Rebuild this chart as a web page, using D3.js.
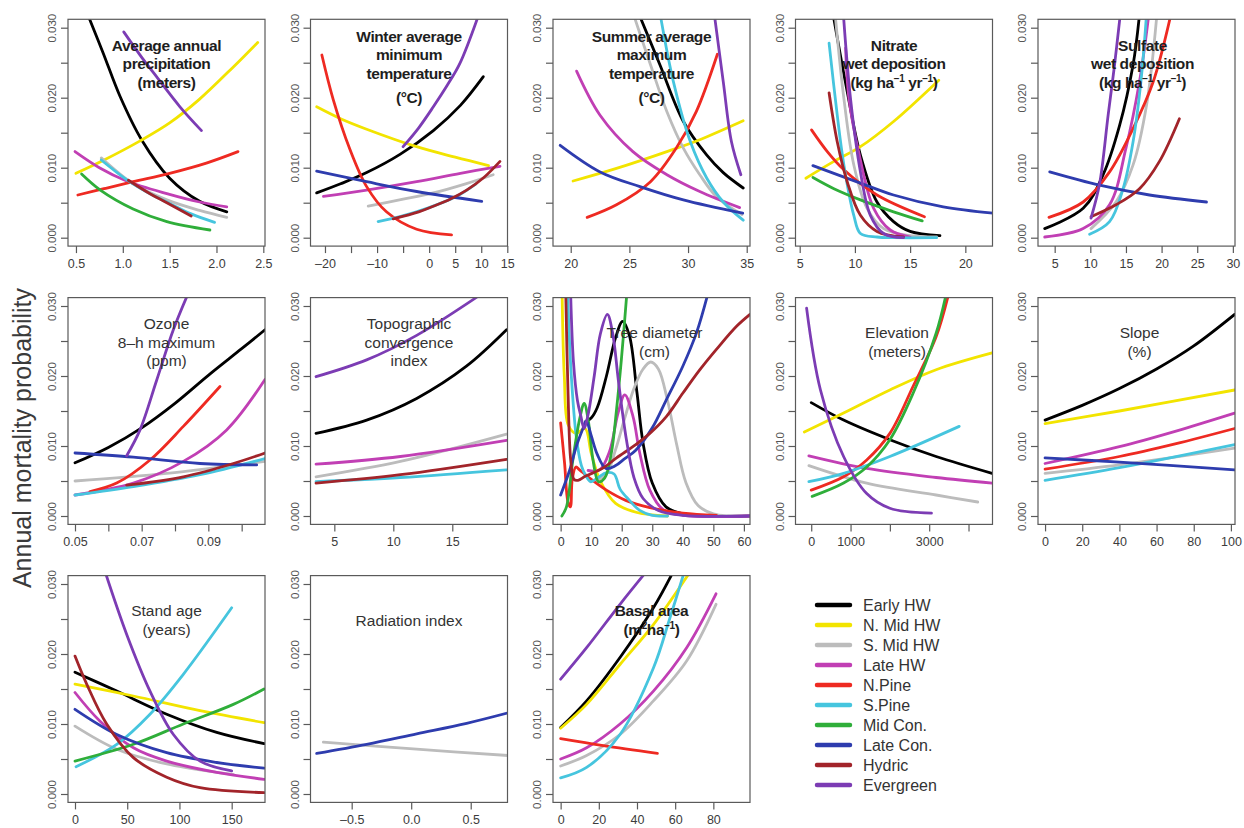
<!DOCTYPE html>
<html>
<head>
<meta charset="utf-8">
<script src="https://cdn.jsdelivr.net/npm/d3@7"></script>
<style>
  body { margin: 0; background: #fff; }
  svg { font-family: "Liberation Sans", Arial, Helvetica, sans-serif; }
</style>
</head>
<body>
<script>
// species groups and their line colours
const species = ["Early HW", "N. Mid HW", "S. Mid HW", "Late HW", "N.Pine", "S.Pine", "Mid Con.", "Late Con.", "Hydric", "Evergreen"];
const speciesColors = ["#000000", "#f2e400", "#bcbcbc", "#c13fb4", "#ee2a22", "#46c5de", "#2fae3a", "#2e3cae", "#a2242a", "#7c3cb4"];

// shared y axis
const yTicks = [0, 0.005, 0.010, 0.015, 0.020, 0.025, 0.030];
const yTickLabels = ["0.000", "", "0.010", "", "0.020", "", "0.030"];

// x ticks per panel
const precipTicks = [0.5, 1, 1.5, 2, 2.5];
const precipLabels = ["0.5", "1.0", "1.5", "2.0", "2.5"];
const winterTicks = [-20, -15, -10, -5, 0, 5, 10, 15];
const winterLabels = ["\u201320", "", "\u201310", "", "0", "5", "10", "15"];
const summerTicks = [20, 25, 30, 35];
const summerLabels = ["20", "25", "30", "35"];
const nitrateTicks = [5, 10, 15, 20];
const nitrateLabels = ["5", "10", "15", "20"];
const sulfateTicks = [5, 10, 15, 20, 25, 30];
const sulfateLabels = ["5", "10", "15", "20", "25", "30"];
const ozoneTicks = [0.05, 0.06, 0.07, 0.08, 0.09, 0.10];
const ozoneLabels = ["0.05", "", "0.07", "", "0.09", ""];
const topoTicks = [5, 10, 15];
const topoLabels = ["5", "10", "15"];
const diameterTicks = [0, 10, 20, 30, 40, 50, 60];
const diameterLabels = ["0", "10", "20", "30", "40", "50", "60"];
const elevationTicks = [0, 1000, 2000, 3000, 4000];
const elevationLabels = ["0", "1000", "", "3000", ""];
const slopeTicks = [0, 20, 40, 60, 80, 100];
const slopeLabels = ["0", "20", "40", "60", "80", "100"];
const standAgeTicks = [0, 50, 100, 150];
const standAgeLabels = ["0", "50", "100", "150"];
const radiationTicks = [-0.5, 0, 0.5];
const radiationLabels = ["\u20130.5", "0.0", "0.5"];
const basalTicks = [0, 20, 40, 60, 80];
const basalLabels = ["0", "20", "40", "60", "80"];

// curves: [species, [[x, mortality], ...]]
const precipCurves = [
  ["Early HW", [[0.64,0.0314],[0.79,0.0264],[0.97,0.0202],[1.2,0.0140],[1.5,0.0085],[1.82,0.0052],[2.11,0.0037]]],
  ["N. Mid HW", [[0.5,0.0092],[0.8,0.0111],[1.18,0.0138],[1.5,0.0164],[1.82,0.0198],[2.18,0.0244],[2.44,0.0279]]],
  ["S. Mid HW", [[0.77,0.0114],[1.11,0.0077],[1.47,0.0054],[1.82,0.0039],[2.11,0.0029]]],
  ["Late HW", [[0.49,0.0123],[0.75,0.0100],[1.04,0.0081],[1.47,0.0063],[1.82,0.0051],[2.11,0.0044]]],
  ["N.Pine", [[0.52,0.0061],[0.8,0.0070],[1.11,0.0080],[1.5,0.0092],[1.9,0.0107],[2.23,0.0123]]],
  ["S.Pine", [[0.77,0.0111],[1.04,0.0083],[1.3,0.0062],[1.5,0.0049],[1.73,0.0034],[1.98,0.0022]]],
  ["Mid Con.", [[0.56,0.0091],[0.76,0.0068],[1.11,0.0041],[1.47,0.0023],[1.93,0.0011]]],
  ["Hydric", [[1.06,0.0082],[1.3,0.0062],[1.47,0.0050],[1.73,0.0031]]],
  ["Evergreen", [[1.01,0.0294],[1.2,0.0258],[1.36,0.0230],[1.61,0.0187],[1.84,0.0153]]]
];
const winterCurves = [
  ["Early HW", [[-21.6,0.0064],[-17,0.0077],[-12,0.0093],[-5.6,0.0119],[0.8,0.0153],[6,0.0189],[10.4,0.0230]]],
  ["N. Mid HW", [[-21.6,0.0187],[-17,0.0170],[-12,0.0155],[-2.4,0.0130],[5,0.0115],[11.4,0.0103]]],
  ["S. Mid HW", [[-11.7,0.0045],[-5,0.0055],[0.8,0.0064],[7,0.0077],[12.3,0.0090]]],
  ["Late HW", [[-20.3,0.0059],[-12,0.0068],[-2.4,0.0080],[6,0.0092],[13.6,0.0102]]],
  ["N.Pine", [[-20.6,0.0261],[-18.4,0.0197],[-15.2,0.0126],[-12,0.0073],[-8.2,0.0037],[-2.4,0.0012],[4.3,0.0004]]],
  ["S.Pine", [[-9.8,0.0023],[-5.6,0.0030],[0,0.0043],[5,0.0058],[9,0.0077]]],
  ["Late Con.", [[-21.6,0.0095],[-12,0.0080],[-2.4,0.0066],[10.1,0.0052]]],
  ["Hydric", [[-6.9,0.0027],[-2,0.0037],[0.8,0.0045],[4,0.0055],[7.2,0.0068],[10.5,0.0086],[13.6,0.0109]]],
  ["Evergreen", [[-5,0.0130],[-2,0.0157],[0.8,0.0187],[3.5,0.0218],[5.9,0.0249],[9.3,0.0314]]]
];
const summerCurves = [
  ["Early HW", [[25.95,0.0314],[27.6,0.0247],[29.6,0.0166],[31.6,0.0118],[33,0.0093],[34.7,0.0071]]],
  ["N. Mid HW", [[20.2,0.0081],[23.9,0.0099],[28.2,0.0123],[31,0.0140],[34.7,0.0167]]],
  ["S. Mid HW", [[25.45,0.0314],[26.8,0.0247],[28.2,0.0180],[29.6,0.0128],[31,0.0090],[32.4,0.0059],[34.6,0.0033]]],
  ["Late HW", [[20.5,0.0238],[22.5,0.0175],[25.3,0.0123],[28.2,0.0090],[31,0.0066],[34.4,0.0043]]],
  ["N.Pine", [[21.4,0.0029],[23.9,0.0047],[26.8,0.0080],[29,0.0128],[30.7,0.0180],[32.5,0.0262]]],
  ["S.Pine", [[27.68,0.0314],[28.75,0.0223],[30.2,0.0137],[31.6,0.0085],[33,0.0051],[34.7,0.0025]]],
  ["Late Con.", [[19.1,0.0132],[22.5,0.0094],[25.9,0.0073],[29.6,0.0054],[34.66,0.0035]]],
  ["Evergreen", [[32.28,0.0314],[33,0.0223],[33.7,0.0137],[34.5,0.0090]]]
];
const nitrateCurves = [
  ["Early HW", [[8.08,0.0314],[9.3,0.0209],[10.5,0.0118],[12,0.0051],[13.5,0.0023],[15,0.0009],[17.7,0.0003]]],
  ["N. Mid HW", [[5.56,0.0085],[8.1,0.0109],[10.5,0.0130],[13.5,0.0166],[17.6,0.0225]]],
  ["S. Mid HW", [[8.24,0.0314],[9,0.0199],[9.9,0.0104],[11.1,0.0042],[12.6,0.0013],[15,0.0003],[17.4,0.0001]]],
  ["Late HW", [[9.16,0.0271],[9.46,0.0199],[10.4,0.0118],[11.7,0.0042],[13.2,0.0011],[15,0.0001]]],
  ["N.Pine", [[6.07,0.0154],[7.5,0.0123],[9,0.0097],[12,0.0061],[16.3,0.0030]]],
  ["S.Pine", [[7.66,0.0278],[8.4,0.0175],[9,0.0104],[9.9,0.0032],[10.5,0.0006],[12,0.0001],[13.5,0.0],[17.4,0.0]]],
  ["Mid Con.", [[6.2,0.0086],[8.1,0.0070],[10.5,0.0054],[13.5,0.0037],[16.1,0.0024]]],
  ["Late Con.", [[6.2,0.0103],[10.5,0.0078],[13.5,0.0061],[18,0.0044],[22.5,0.0035]]],
  ["Hydric", [[7.66,0.0207],[8.4,0.0137],[9.3,0.0080],[10.5,0.0032],[12,0.0009],[14.4,0.0001]]],
  ["Evergreen", [[8.98,0.0314],[9.6,0.0199],[10.5,0.0094],[11.4,0.0032],[12.6,0.0006],[14.4,0.0]]]
];
const sulfateCurves = [
  ["Early HW", [[3.6,0.0013],[9,0.0042],[11.8,0.0090],[14.1,0.0160],[16,0.0247],[16.85,0.0314]]],
  ["S. Mid HW", [[10.1,0.0013],[13.6,0.0051],[16,0.0104],[17.9,0.0190],[19.3,0.0314]]],
  ["Late HW", [[3.6,0.0001],[9,0.0013],[12.7,0.0047],[15,0.0128],[16.9,0.0223],[18.15,0.0314]]],
  ["N.Pine", [[4.2,0.0029],[9,0.0051],[12.7,0.0094],[16,0.0156],[18.8,0.0222],[21.2,0.0314]]],
  ["S.Pine", [[9.9,0.0005],[12.7,0.0023],[14.6,0.0070],[16,0.0137],[17.1,0.0223],[17.85,0.0314]]],
  ["Late Con.", [[4.3,0.0094],[11.3,0.0075],[18.3,0.0061],[26.3,0.0051]]],
  ["Hydric", [[10.1,0.0030],[13.6,0.0047],[16.9,0.0070],[19.7,0.0109],[22.5,0.0170]]],
  ["Evergreen", [[10.1,0.0028],[11.3,0.0077],[12.5,0.0175],[13.4,0.0247],[14.15,0.0314]]]
];
const ozoneCurves = [
  ["Early HW", [[0.05,0.0076],[0.06,0.0098],[0.07,0.0126],[0.08,0.0161],[0.09,0.0201],[0.1,0.0239],[0.107,0.0266]]],
  ["S. Mid HW", [[0.05,0.0050],[0.0775,0.0061],[0.107,0.0078]]],
  ["Late HW", [[0.05,0.0030],[0.0675,0.0047],[0.0825,0.0078],[0.0955,0.0123],[0.107,0.0195]]],
  ["N.Pine", [[0.0545,0.0035],[0.0625,0.0047],[0.0725,0.0080],[0.0825,0.0128],[0.0935,0.0185]]],
  ["S.Pine", [[0.05,0.0030],[0.0675,0.0042],[0.0875,0.0059],[0.107,0.0082]]],
  ["Late Con.", [[0.05,0.0090],[0.0675,0.0084],[0.0875,0.0075],[0.1045,0.0073]]],
  ["Hydric", [[0.0655,0.0044],[0.0825,0.0056],[0.0975,0.0075],[0.107,0.0090]]],
  ["Evergreen", [[0.0655,0.0086],[0.0695,0.0123],[0.0745,0.0194],[0.0795,0.0266],[0.0836,0.0314]]]
];
const topoCurves = [
  ["Early HW", [[3.45,0.0118],[7.74,0.0137],[11.98,0.0168],[16.2,0.0214],[19.6,0.0266]]],
  ["S. Mid HW", [[3.45,0.0056],[10.6,0.0078],[19.6,0.0117]]],
  ["Late HW", [[3.45,0.0074],[10.6,0.0085],[19.6,0.0108]]],
  ["S.Pine", [[3.45,0.0049],[10.6,0.0055],[19.6,0.0066]]],
  ["Hydric", [[3.45,0.0047],[10.6,0.0059],[19.6,0.0081]]],
  ["Evergreen", [[3.45,0.0199],[7.74,0.0223],[11.98,0.0258],[17.2,0.0314]]]
];
const diameterCurves = [
  ["Early HW", [[8.2,0.0135],[10,0.0140],[12,0.0155],[15,0.0200],[18,0.0255],[20.3,0.0278],[22.5,0.0258],[25,0.0176],[27,0.0104],[30,0.0047],[34.5,0.0013],[40,0.0003],[47,0],[62,0]]],
  ["N. Mid HW", [[0.5,0.0314],[1.2,0.0200],[2.5,0.0130],[5,0.0118],[8,0.0125],[10,0.0090],[13,0.0050],[18,0.0018],[25,0.0005],[35,0]]],
  ["S. Mid HW", [[12,0.0052],[15,0.0060],[18,0.0095],[21,0.0140],[24,0.0182],[27,0.0210],[29.5,0.0220],[32,0.0210],[35,0.0165],[38,0.0102],[41,0.0048],[45,0.0015],[50,0.0003],[55,0],[62,0]]],
  ["Late HW", [[9,0.0065],[12.8,0.0066],[16,0.0092],[18.8,0.0147],[21,0.0173],[23.7,0.0142],[25.9,0.0090],[29.2,0.0037],[33.6,0.0009],[40,0.0001],[62,0]]],
  ["N.Pine", [[0,0.0133],[1.3,0.0075],[2.4,0.0020],[3.2,0.0013],[3.8,0.0052],[5,0.0070],[6.2,0.0066],[9.5,0.0054],[15,0.0037],[21.5,0.0022],[29.2,0.0012],[40,0.0004],[51,0.0001]]],
  ["S.Pine", [[2.3,0.0314],[3.5,0.0200],[5.1,0.0114],[6.8,0.0072],[8.2,0.0058],[9.8,0.0049],[12,0.0054],[15,0.0062],[17.5,0.0060],[19.5,0.0038],[22.4,0.0023],[25.9,0.0008],[30,0.0001],[35,0]]],
  ["Mid Con.", [[0.4,0],[1.9,0.0013],[4,0.0080],[6.2,0.0138],[7.7,0.0161],[9,0.0138],[10.6,0.0080],[12.4,0.0049],[14.4,0.0054],[16.6,0.0090],[18.3,0.0152],[19.9,0.0224],[21.6,0.0314]]],
  ["Late Con.", [[0,0.0030],[3,0.0066],[5.1,0.0099],[7.3,0.0125],[8.4,0.0136],[10,0.0115],[12,0.0088],[14.8,0.0068],[18,0.0072],[21,0.0082],[24.6,0.0094],[30,0.0126],[34.6,0.0166],[40,0.0214],[44.5,0.0262],[48,0.0314]]],
  ["Hydric", [[1.7,0.0314],[2.4,0.0180],[3.3,0.0080],[4.4,0.0052],[5.7,0.0051],[8.2,0.0057],[13.7,0.0068],[18.3,0.0083],[24.6,0.0102],[29.2,0.0118],[34.6,0.0142],[40.1,0.0176],[45.6,0.0209],[51,0.0238],[57.6,0.0271],[62,0.0288]]],
  ["Evergreen", [[3.3,0.0314],[4.2,0.0220],[5.5,0.0165],[6.6,0.0143],[7.7,0.0125],[9,0.0145],[11,0.0200],[13,0.0260],[15.3,0.0288],[17,0.0262],[19,0.0190],[21.5,0.0110],[24,0.0055],[27,0.0025],[32,0.0008],[40,0.0001],[62,0]]]
];
const elevationCurves = [
  ["Early HW", [[0,0.0162],[823,0.0137],[2000,0.0109],[3176,0.0085],[4600,0.0061]]],
  ["N. Mid HW", [[-176,0.0120],[823,0.0147],[2000,0.0180],[3176,0.0209],[4600,0.0233]]],
  ["S. Mid HW", [[-60,0.0072],[1411,0.0047],[3176,0.0030],[4235,0.0020]]],
  ["Late HW", [[-60,0.0086],[1411,0.0068],[3176,0.0055],[4600,0.0047]]],
  ["N.Pine", [[0,0.0037],[823,0.0056],[1411,0.0080],[2000,0.0118],[2588,0.0185],[3176,0.0256],[3480,0.0314]]],
  ["S.Pine", [[-60,0.0049],[823,0.0061],[2000,0.0085],[3764,0.0128]]],
  ["Mid Con.", [[24,0.0028],[823,0.0047],[1411,0.0070],[2000,0.0109],[2588,0.0175],[3176,0.0261],[3420,0.0314]]],
  ["Evergreen", [[-118,0.0297],[235,0.0180],[823,0.0085],[1411,0.0032],[2000,0.0011],[3058,0.0004]]]
];
const slopeCurves = [
  ["Early HW", [[0,0.0137],[20,0.0158],[40,0.0182],[60,0.0210],[80,0.0243],[102,0.0288]]],
  ["N. Mid HW", [[0,0.0132],[40,0.0150],[102,0.0180]]],
  ["S. Mid HW", [[0,0.0061],[40,0.0073],[102,0.0097]]],
  ["Late HW", [[0,0.0075],[40,0.0099],[70,0.0121],[102,0.0147]]],
  ["N.Pine", [[0,0.0067],[40,0.0085],[70,0.0103],[102,0.0125]]],
  ["S.Pine", [[0,0.0051],[40,0.0069],[102,0.0102]]],
  ["Late Con.", [[0,0.0083],[40,0.0077],[102,0.0066]]]
];
const standAgeCurves = [
  ["Early HW", [[0,0.0174],[40,0.0147],[87.8,0.0114],[135.7,0.0088],[181,0.0072]]],
  ["N. Mid HW", [[0,0.0157],[55.9,0.0140],[119.7,0.0119],[181,0.0102]]],
  ["S. Mid HW", [[0,0.0097],[40,0.0064],[87.8,0.0043],[135.7,0.0031],[151.6,0.0028]]],
  ["Late HW", [[0,0.0145],[24,0.0104],[55.9,0.0066],[87.8,0.0047],[135.7,0.0031],[181,0.0021]]],
  ["S.Pine", [[1,0.0039],[40,0.0071],[71.8,0.0114],[103.7,0.0171],[150,0.0266]]],
  ["Mid Con.", [[0,0.0047],[55.9,0.0071],[103.7,0.0100],[151.6,0.0128],[181,0.0150]]],
  ["Late Con.", [[0,0.0121],[40,0.0085],[87.8,0.0059],[135.7,0.0045],[181,0.0037]]],
  ["Hydric", [[0,0.0197],[11.2,0.0157],[30.3,0.0100],[55.9,0.0052],[87.8,0.0024],[119.7,0.0009],[181,0.0002]]],
  ["Evergreen", [[29.6,0.0314],[49.5,0.0228],[71.8,0.0147],[94.2,0.0085],[119.7,0.0047],[150,0.0033]]]
];
const radiationCurves = [
  ["S. Mid HW", [[-0.738,0.0074],[0.046,0.0064],[0.816,0.0055]]],
  ["Late Con.", [[-0.794,0.0058],[-0.374,0.0071],[0.046,0.0086],[0.466,0.0101],[0.816,0.0116]]]
];
const basalCurves = [
  ["Early HW", [[0,0.0095],[13.6,0.0133],[31.1,0.0195],[48.6,0.0266],[58.3,0.0314]]],
  ["N. Mid HW", [[0,0.0094],[13.6,0.0128],[31.1,0.0185],[48.6,0.0242],[67,0.0314]]],
  ["S. Mid HW", [[0,0.0040],[13.6,0.0055],[31.1,0.0085],[48.6,0.0133],[66,0.0190],[81.4,0.0271]]],
  ["Late HW", [[0,0.0050],[13.6,0.0066],[31.1,0.0100],[48.6,0.0147],[66,0.0209],[81.4,0.0286]]],
  ["N.Pine", [[0,0.0079],[22.4,0.0069],[50.7,0.0058]]],
  ["S.Pine", [[0,0.0023],[13.6,0.0038],[31.1,0.0085],[48.6,0.0180],[57.3,0.0252],[64.4,0.0314]]],
  ["Evergreen", [[0,0.0164],[13.6,0.0209],[31.1,0.0271],[43.8,0.0314]]]
];

// panel titles: each line is a list of [text, isSuperscript]
const degC = [["(\u00b0C)"]];
const perHaYr = [["(kg ha"], ["\u22121", 1], [" yr"], ["\u22121", 1], [")"]];

const panels = [
  {row: 0, col: 0, xdom: [0.415, 2.518], ticks: precipTicks, labels: precipLabels, curves: precipCurves, bold: true,
   title: [[["Average annual"]], [["precipitation"]], [["(meters)"]]]},
  {row: 0, col: 1, xdom: [-22.78, 15.04], ticks: winterTicks, labels: winterLabels, curves: winterCurves, bold: true,
   title: [[["Winter average"]], [["minimum"]], [["temperature"]], degC]},
  {row: 0, col: 2, xdom: [18.49, 35.28], ticks: summerTicks, labels: summerLabels, curves: summerCurves, bold: true,
   title: [[["Summer average"]], [["maximum"]], [["temperature"]], degC]},
  {row: 0, col: 3, xdom: [4.62, 22.46], ticks: nitrateTicks, labels: nitrateLabels, curves: nitrateCurves, bold: true,
   title: [[["Nitrate"]], [["wet deposition"]], perHaYr]},
  {row: 0, col: 4, xdom: [2.66, 30.3], ticks: sulfateTicks, labels: sulfateLabels, curves: sulfateCurves, bold: true, dx: 6,
   title: [[["Sulfate"]], [["wet deposition"]], perHaYr]},
  {row: 1, col: 0, xdom: [0.0479, 0.107], ticks: ozoneTicks, labels: ozoneLabels, curves: ozoneCurves,
   title: [[["Ozone"]], [["8\u2013h maximum"]], [["(ppm)"]]]},
  {row: 1, col: 1, xdom: [2.98, 19.68], ticks: topoTicks, labels: topoLabels, curves: topoCurves,
   title: [[["Topographic"]], [["convergence"]], [["index"]]]},
  {row: 1, col: 2, xdom: [-2.5, 62], ticks: diameterTicks, labels: diameterLabels, curves: diameterCurves, dx: 3,
   title: [[["Tree diameter"]], [["(cm)"]]]},
  {row: 1, col: 3, xdom: [-400, 4610], ticks: elevationTicks, labels: elevationLabels, curves: elevationCurves, dx: 3,
   title: [[["Elevation"]], [["(meters)"]]]},
  {row: 1, col: 4, xdom: [-3.8, 102.2], ticks: slopeTicks, labels: slopeLabels, curves: slopeCurves, dx: 3,
   title: [[["Slope"]], [["(%)"]]]},
  {row: 2, col: 0, xdom: [-6.7, 181.9], ticks: standAgeTicks, labels: standAgeLabels, curves: standAgeCurves,
   title: [[["Stand age"]], [["(years)"]]]},
  {row: 2, col: 1, xdom: [-0.846, 0.809], ticks: radiationTicks, labels: radiationLabels, curves: radiationCurves,
   title: [[["Radiation index"]]]},
  {row: 2, col: 2, xdom: [-4, 99.2], ticks: basalTicks, labels: basalLabels, curves: basalCurves, bold: true,
   title: [[["Basal area"]], [["(m"], ["2", 1], ["ha"], ["\u22121", 1], [")"]]]}
];

const width = 1244, height = 828;
const colLeft = [68, 310.5, 553, 795.5, 1038];
const rowZero = [237.7, 516, 794];
const plotW = 197, span = 210;

const svg = d3.select("body").append("svg")
    .attr("width", width)
    .attr("height", height);

const colorOf = d3.scaleOrdinal().domain(species).range(speciesColors);

panels.forEach(function(p, pi) {
    let left = colLeft[p.col];
    let zero = rowZero[p.row];

    let x = d3.scaleLinear().domain(p.xdom).range([left, left + plotW]);
    let y = d3.scaleLinear().domain([-0.0012, 0.0312]).range([zero + span * 0.04, zero - span * 1.04]);

    let g = svg.append("g");

    g.append("clipPath").attr("id", "clip" + pi)
     .append("rect")
     .attr("x", x.range()[0]).attr("y", y(0.0312))
     .attr("width", plotW).attr("height", y(-0.0012) - y(0.0312));

    let line = d3.line()
        .x(d => x(d[0]))
        .y(d => y(d[1]))
        .curve(d3.curveCatmullRom.alpha(0.5));

    g.append("g")
     .attr("clip-path", "url(#clip" + pi + ")")
     .selectAll("path")
     .data(p.curves)
     .enter()
     .append("path")
     .attr("d", d => line(d[1]))
     .attr("fill", "none")
     .attr("stroke", d => colorOf(d[0]))
     .attr("stroke-width", 2.8)
     .attr("stroke-linecap", "round")
     .attr("stroke-linejoin", "round");

    // frame
    g.append("rect")
     .attr("x", x.range()[0]).attr("y", y(0.0312))
     .attr("width", plotW).attr("height", y(-0.0012) - y(0.0312))
     .attr("fill", "none")
     .attr("stroke", "#5a5a5a")
     .attr("stroke-width", 1.2);

    // x axis
    let xa = g.append("g")
        .attr("transform", "translate(0," + y(-0.0012) + ")")
        .call(d3.axisBottom(x).tickValues(p.ticks)
              .tickFormat((d, i) => p.labels[i])
              .tickSize(7).tickPadding(6));
    xa.select(".domain").remove();
    xa.selectAll("line").attr("stroke", "#5a5a5a").attr("stroke-width", 1.2);
    xa.selectAll("text")
      .attr("font-size", "12.5px")
      .attr("fill", "#3c3c3c")
      .style("font-family", "'Liberation Sans', Arial, sans-serif");

    // y axis with vertical labels
    let ya = g.append("g")
        .attr("transform", "translate(" + x.range()[0] + ",0)")
        .call(d3.axisLeft(y).tickValues(yTicks)
              .tickFormat((d, i) => yTickLabels[i])
              .tickSize(7));
    ya.select(".domain").remove();
    ya.selectAll("line").attr("stroke", "#5a5a5a").attr("stroke-width", 1.2);
    ya.selectAll("text")
      .attr("transform", "rotate(-90)")
      .attr("x", 0)
      .attr("y", -16)
      .attr("dy", "0.35em")
      .attr("text-anchor", "middle")
      .attr("font-size", "11.5px")
      .attr("fill", "#555")
      .style("font-family", "'Liberation Sans', Arial, sans-serif");

    // title
    let n = p.title.length;
    let frameTop = y(0.0312);
    let cx = left + plotW / 2 + (p.dx || 0);
    let firstCenter = frameTop + 44.5 - (n - 1) * 9.25;
    let t = g.append("text")
        .attr("text-anchor", "middle")
        .attr("font-size", "15.5px")
        .attr("font-weight", p.bold ? "bold" : "normal")
        .attr("letter-spacing", p.bold ? "-0.4px" : "0px")
        .attr("fill", p.bold ? "#1e1e1e" : "#333");
    p.title.forEach(function(segs, li) {
        let extra = (segs === degC) ? 6 : 0;
        let yy = firstCenter + li * 18.5 + extra + 5.5;
        let first = true;
        let shifted = false;
        segs.forEach(function(s) {
            let ts = t.append("tspan").text(s[0]);
            if (first) { ts.attr("x", cx).attr("y", yy); first = false; }
            if (s[1]) {
                ts.attr("font-size", "10px").attr("dy", shifted ? 0 : -6);
                shifted = true;
            } else if (shifted) {
                ts.attr("dy", 6);
                shifted = false;
            }
        });
    });
});

// y axis title
svg.append("text")
   .attr("transform", "translate(22,438) rotate(-90)")
   .attr("text-anchor", "middle")
   .attr("dominant-baseline", "central")
   .attr("font-size", "25px")
   .attr("fill", "#3a3a3a")
   .text("Annual mortality probability");

// legend
let legendY = d3.scalePoint().domain(species).range([605, 785]);
let legend = svg.append("g");
legend.selectAll("line")
    .data(species)
    .enter()
    .append("line")
    .attr("x1", 817).attr("x2", 850)
    .attr("y1", d => legendY(d)).attr("y2", d => legendY(d))
    .attr("stroke", d => colorOf(d))
    .attr("stroke-width", 4.5)
    .attr("stroke-linecap", "round");
legend.selectAll("text")
    .data(species)
    .enter()
    .append("text")
    .attr("x", 863)
    .attr("y", d => legendY(d))
    .attr("dominant-baseline", "central")
    .attr("font-size", "16px")
    .attr("fill", "#333")
    .text(d => d);
</script>
</body>
</html>
